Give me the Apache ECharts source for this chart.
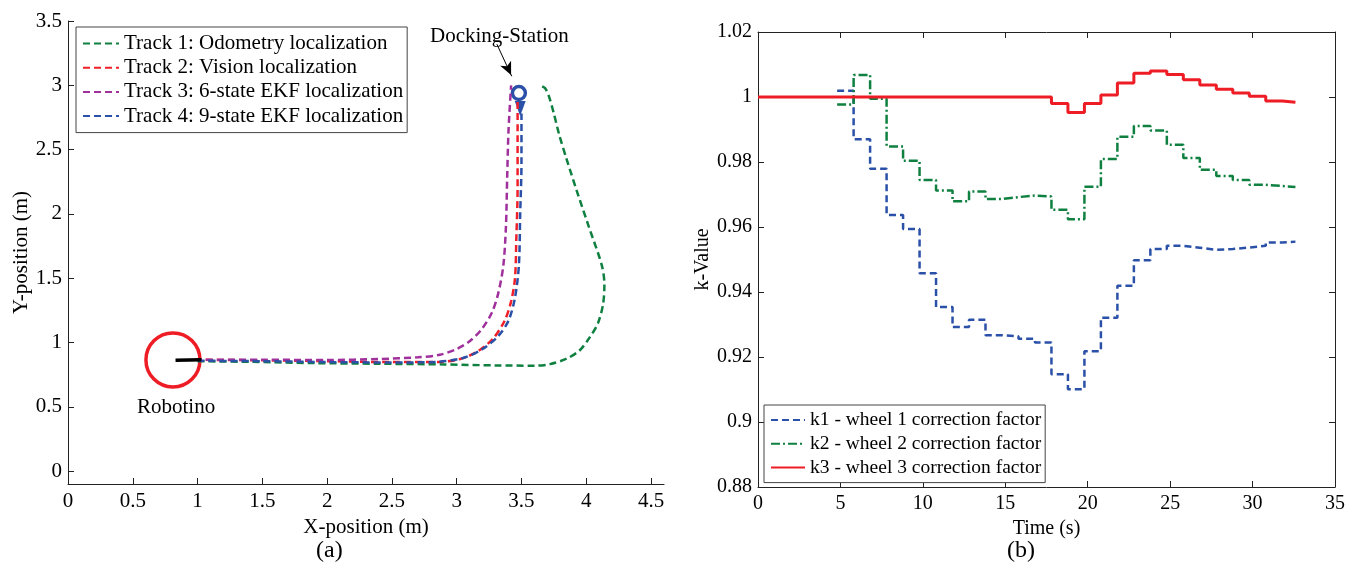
<!DOCTYPE html>
<html>
<head>
<meta charset="utf-8">
<script src="https://cdn.jsdelivr.net/npm/echarts@6/dist/echarts.min.js"></script>
<style>
    html, body { margin: 0; padding: 0; background: #fff; }
    #main { width: 1348px; height: 562px; }
</style>
</head>
<body>
<div id="main"></div>
<script>
// (a) robot tracks, [x, y] in metres
var track1 = [[1.00, 0.855], [1.40, 0.850], [1.90, 0.840], [2.40, 0.835], [2.90, 0.830], [3.30, 0.822], [3.60, 0.820], [3.72, 0.832], [3.85, 0.875], [3.95, 0.94], [4.02, 1.03], [4.09, 1.15], [4.13, 1.30], [4.14, 1.45], [4.12, 1.60], [4.02, 1.90], [3.93, 2.17], [3.85, 2.42], [3.79, 2.62], [3.75, 2.78], [3.71, 2.92], [3.68, 2.98], [3.64, 3.00]];
var track2 = [[0.98, 0.866], [1.50, 0.862], [2.00, 0.855], [2.50, 0.848], [2.85, 0.848], [3.02, 0.870], [3.16, 0.93], [3.28, 1.03], [3.37, 1.17], [3.42, 1.32], [3.45, 1.50], [3.46, 1.80], [3.47, 2.20], [3.47, 2.60], [3.47, 2.88]];
var track3 = [[0.98, 0.866], [1.50, 0.866], [2.00, 0.864], [2.40, 0.872], [2.70, 0.885], [2.87, 0.905], [3.00, 0.95], [3.10, 1.01], [3.19, 1.10], [3.27, 1.23], [3.32, 1.38], [3.36, 1.60], [3.38, 1.90], [3.39, 2.30], [3.40, 2.65], [3.42, 3.00]];
var track4 = [[1.00, 0.858], [1.50, 0.855], [2.00, 0.848], [2.50, 0.845], [2.85, 0.850], [3.05, 0.880], [3.20, 0.950], [3.32, 1.05], [3.40, 1.17], [3.45, 1.35], [3.48, 1.60], [3.49, 2.00], [3.50, 2.40], [3.50, 2.78]];
var robotPos = [0.81, 0.865];
var robotHeading = [[0.83, 0.862], [1.03, 0.866]];
var dockCircle = [3.48, 2.94];
var dockArrow = [3.49, 2.82];
var pointerShaft = [[3.31, 3.32], [3.425, 3.07]];
var pointerHead = [3.42, 3.08];
var trackNames = ['Track 1: Odometry localization', 'Track 2: Vision localization', 'Track 3: 6-state EKF localization', 'Track 4: 9-state EKF localization'];
var xTicksA = [0, 0.5, 1, 1.5, 2, 2.5, 3, 3.5, 4, 4.5];
var yTicksA = [0, 0.5, 1, 1.5, 2, 2.5, 3, 3.5];

// (b) correction factors, value holds from stepTime[i] until the next step
var stepTime = [4.8, 5.8, 6.8, 7.8, 8.8, 9.8, 10.8, 11.8, 12.8, 13.8, 14.8, 15.8, 16.8, 17.8, 18.8, 19.8, 20.8, 21.8, 22.8, 23.8, 24.8, 25.8, 26.8, 27.8, 28.8, 29.8, 30.8, 31.8];
var endTime = 32.6;
var k1 = [1.0019, 0.9870, 0.9779, 0.9637, 0.9594, 0.9458, 0.9354, 0.9292, 0.9315, 0.9267, 0.9264, 0.9256, 0.9245, 0.9147, 0.9101, 0.9218, 0.9321, 0.9419, 0.9498, 0.9532, 0.9542, 0.9536, 0.9530, 0.9532, 0.9537, 0.9542, 0.9552, 0.9555];
var k2 = [0.9977, 1.0068, 0.9995, 0.9848, 0.9804, 0.9745, 0.9712, 0.9679, 0.9709, 0.9686, 0.9692, 0.9697, 0.9694, 0.9653, 0.9624, 0.9724, 0.9809, 0.9878, 0.9911, 0.9897, 0.9853, 0.9812, 0.9776, 0.9757, 0.9745, 0.9730, 0.9726, 0.9723];
var k3 = [1.0, 1.0, 1.0, 1.0, 1.0, 1.0, 1.0, 1.0, 1.0, 1.0, 1.0, 1.0, 1.0, 0.9980, 0.9952, 0.9980, 1.0006, 1.0043, 1.0073, 1.0080, 1.0069, 1.0053, 1.0037, 1.0024, 1.0012, 1.0002, 0.9988, 0.9984];
var k3Start = [0, 1.0];
var kNames = ['k1 - wheel 1 correction factor', 'k2 - wheel 2 correction factor', 'k3 - wheel 3 correction factor'];

var serif = '"Liberation Serif", "Times New Roman", serif';

function steps(vals) {
    var out = [];
    for (var i = 0; i < vals.length; i++) {
        out.push([stepTime[i], vals[i]]);
    }
    out.push([endTime, vals[vals.length - 1]]);
    return out;
}

var txtA = { color: '#000', fontSize: 21, fontFamily: serif };
var txtB = { color: '#000', fontSize: 20, fontFamily: serif };
var axisLine = { show: true, onZero: false, lineStyle: { color: '#222', width: 1 } };
var tick = { inside: true, length: 6, lineStyle: { color: '#222' } };

var k3Data = [k3Start].concat(steps(k3));

var myChart = echarts.init(document.getElementById('main'));
var option = {
    animation: false,
    backgroundColor: '#fff',
    grid: [
        { left: 68, top: 21, width: 596, height: 463 },
        { left: 758, top: 32, width: 581, height: 455 }
    ],
    legend: [
        {
            data: trackNames,
            orient: 'vertical',
            left: 76, top: 27,
            itemWidth: 36, itemHeight: 12, itemGap: 3.2,
            padding: [6, 4, 6, 6],
            borderColor: '#444', borderWidth: 1, backgroundColor: '#fff',
            itemStyle: { opacity: 0 },
            textStyle: { color: '#000', fontSize: 21, fontFamily: serif, lineHeight: 21 }
        },
        {
            data: kNames,
            orient: 'vertical',
            left: 764, top: 405,
            itemWidth: 34, itemHeight: 12, itemGap: 3.8,
            padding: [5, 4, 5, 6],
            borderColor: '#444', borderWidth: 1, backgroundColor: '#fff',
            itemStyle: { opacity: 0 },
            textStyle: { color: '#000', fontSize: 19.5, fontFamily: serif, lineHeight: 20 }
        }
    ],
    xAxis: [
        {
            gridIndex: 0, type: 'value', min: 0, max: 4.6,
            axisLine: axisLine,
            axisTick: Object.assign({ customValues: xTicksA }, tick),
            axisLabel: Object.assign({ customValues: xTicksA, margin: 7 }, txtA),
            splitLine: { show: false },
            name: 'X-position (m)', nameLocation: 'middle', nameGap: 23, nameTextStyle: txtA
        },
        {
            gridIndex: 1, type: 'value', min: 0, max: 35, interval: 5,
            axisLine: axisLine,
            axisTick: tick,
            axisLabel: Object.assign({ margin: 7 }, txtB),
            splitLine: { show: false },
            name: 'Time (s)', nameLocation: 'middle', nameGap: 20, nameTextStyle: txtB
        },
        {
            gridIndex: 1, type: 'value', min: 0, max: 35, interval: 5, position: 'top',
            axisLine: axisLine,
            axisTick: tick,
            axisLabel: { show: false },
            splitLine: { show: false }
        }
    ],
    yAxis: [
        {
            gridIndex: 0, type: 'value', min: -0.1, max: 3.5,
            axisLine: axisLine,
            axisTick: Object.assign({ customValues: yTicksA }, tick),
            axisLabel: Object.assign({ customValues: yTicksA, margin: 6 }, txtA),
            splitLine: { show: false },
            name: 'Y-position (m)', nameLocation: 'middle', nameGap: 35, nameTextStyle: txtA
        },
        {
            gridIndex: 1, type: 'value', min: 0.88, max: 1.02, interval: 0.02,
            axisLine: axisLine,
            axisTick: tick,
            axisLabel: Object.assign({ margin: 6 }, txtB),
            splitLine: { show: false },
            name: 'k-Value', nameLocation: 'middle', nameGap: 43, nameTextStyle: txtB
        },
        {
            gridIndex: 1, type: 'value', min: 0.88, max: 1.02, interval: 0.02, position: 'right',
            axisLine: axisLine,
            axisTick: tick,
            axisLabel: { show: false },
            splitLine: { show: false }
        }
    ],
    graphic: [
        { type: 'text', left: 430, top: 26, style: { text: 'Docking-Station', fill: '#000', font: '21px ' + serif } },
        { type: 'text', left: 137, top: 397, style: { text: 'Robotino', fill: '#000', font: '21px ' + serif } },
        { type: 'text', left: 316, top: 539, style: { text: '(a)', fill: '#000', font: '24px ' + serif } },
        { type: 'text', left: 1007, top: 539, style: { text: '(b)', fill: '#000', font: '24px ' + serif } }
    ],
    series: [
        {
            name: trackNames[0], type: 'line', xAxisIndex: 0, yAxisIndex: 0,
            data: track1, smooth: 0.3, symbol: 'circle', showSymbol: false, color: '#0f8040',
            lineStyle: { width: 2.5, type: [7, 4] }
        },
        {
            name: trackNames[1], type: 'line', xAxisIndex: 0, yAxisIndex: 0,
            data: track2, smooth: 0.3, symbol: 'circle', showSymbol: false, color: '#f0202a',
            lineStyle: { width: 2.5, type: [7, 4] }
        },
        {
            name: trackNames[2], type: 'line', xAxisIndex: 0, yAxisIndex: 0,
            data: track3, smooth: 0.3, symbol: 'circle', showSymbol: false, color: '#a0309c',
            lineStyle: { width: 2.5, type: [7, 4] }
        },
        {
            name: trackNames[3], type: 'line', xAxisIndex: 0, yAxisIndex: 0,
            data: track4, smooth: 0.3, symbol: 'circle', showSymbol: false, color: '#2a50a8',
            lineStyle: { width: 2.5, type: [7, 4] }
        },
        {
            name: 'robot', type: 'line', xAxisIndex: 0, yAxisIndex: 0,
            data: robotHeading, showSymbol: false, color: '#000',
            lineStyle: { width: 3.5 }
        },
        {
            name: 'robotCircle', type: 'scatter', xAxisIndex: 0, yAxisIndex: 0,
            data: [robotPos], symbol: 'circle', symbolSize: 54,
            itemStyle: { color: 'rgba(0,0,0,0)', borderColor: '#ee1c24', borderWidth: 3.5, opacity: 1 }
        },
        {
            name: 'dock', type: 'scatter', xAxisIndex: 0, yAxisIndex: 0,
            data: [dockCircle], symbol: 'circle', symbolSize: 13,
            itemStyle: { color: 'rgba(0,0,0,0)', borderColor: '#2a50a8', borderWidth: 3.5, opacity: 1 }
        },
        {
            name: 'dockArrow', type: 'scatter', xAxisIndex: 0, yAxisIndex: 0,
            data: [dockArrow], symbol: 'triangle', symbolSize: [11, 15], symbolRotate: 180,
            itemStyle: { color: '#2a50a8', opacity: 1 }
        },
        {
            name: 'pointer', type: 'line', xAxisIndex: 0, yAxisIndex: 0,
            data: pointerShaft, showSymbol: false, color: '#000',
            lineStyle: { width: 1 }
        },
        {
            name: 'pointerHead', type: 'scatter', xAxisIndex: 0, yAxisIndex: 0,
            data: [pointerHead], symbol: 'arrow', symbolSize: [9, 13], symbolRotate: 205,
            itemStyle: { color: '#000', opacity: 1 }
        },
        {
            name: kNames[0], type: 'line', xAxisIndex: 1, yAxisIndex: 1,
            data: steps(k1), step: 'end', symbol: 'circle', showSymbol: false, color: '#2a50a8',
            lineStyle: { width: 2.5, type: [7, 4] }
        },
        {
            name: kNames[1], type: 'line', xAxisIndex: 1, yAxisIndex: 1,
            data: steps(k2), step: 'end', symbol: 'circle', showSymbol: false, color: '#0f8040',
            lineStyle: { width: 2.5, type: [9, 3, 2, 3] }
        },
        {
            name: kNames[2], type: 'line', xAxisIndex: 1, yAxisIndex: 1,
            data: k3Data, step: 'end', symbol: 'circle', showSymbol: false, color: '#ee1c24',
            lineStyle: { width: 3 }
        }
    ]
};
myChart.setOption(option);
window.addEventListener('resize', function () {
    myChart.resize();
});
</script>
</body>
</html>
